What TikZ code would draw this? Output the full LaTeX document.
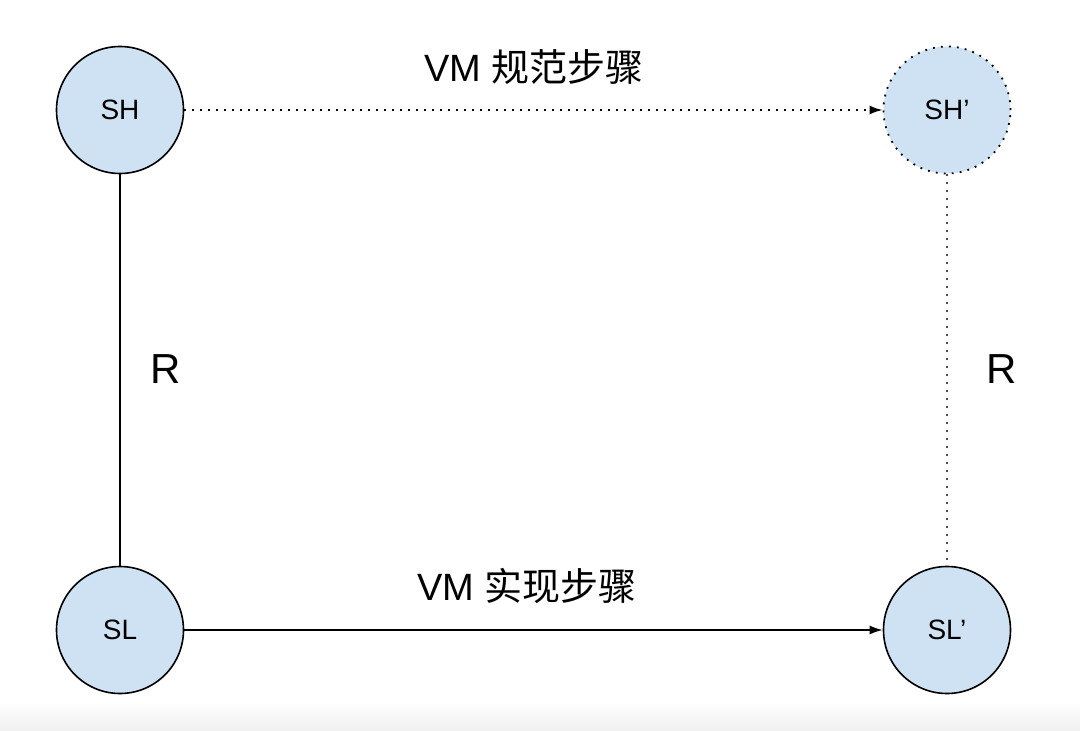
\documentclass[tikz,border=0pt]{standalone}
\usepackage{fontspec}
\setmainfont{Liberation Sans}
\newfontfamily\cjk{Noto Sans CJK SC}
\usetikzlibrary{arrows.meta}
\definecolor{stateblue}{HTML}{CFE2F3}
\tikzset{
  state/.style={circle, draw, fill=stateblue, line width=1.6pt, minimum size=127pt, inner sep=0pt, font=\fontsize{28}{32}\selectfont},
  dotline/.style={line width=1.8pt, dash pattern=on 1.8pt off 6.2pt},
  steparrow/.style={-{Latex[length=13pt,width=9pt]}},
  lbl/.style={font=\fontsize{38}{42}\selectfont}
}
\begin{document}
\begin{tikzpicture}[x=1pt,y=-1pt]
  \useasboundingbox (0,0) rectangle (1080,731);
  % 底部灰条
  \shade[top color=white, bottom color=black!6] (0,700) rectangle (1080,731);

  % 状态
  \node[state] (SH) at (120,110) {SH};
  \node[state, dotline] (SHp) at (947,110) {SH’};
  \node[state] (SL) at (120,630) {SL};
  \node[state] (SLp) at (947,630) {SL’};

  % 连线
  \draw[dotline, steparrow] (SH) -- (SHp);
  \draw[line width=1.6pt, steparrow] (SL) -- (SLp);
  \draw[line width=1.6pt] (SH) -- (SL);
  \draw[dotline, black!70] (SHp) -- (SLp);

  % 标签
  \node[lbl] (spec) at (534,67) {VM {\cjk 规范步骤}};
  \node[lbl] (impl) at (527,586) {VM {\cjk 实现步骤}};
  \node[lbl, font=\fontsize{42}{46}\selectfont] (rl) at (166,369) {R};
  \node[lbl, font=\fontsize{42}{46}\selectfont] (rr) at (1002,369) {R};
\end{tikzpicture}
\end{document}
